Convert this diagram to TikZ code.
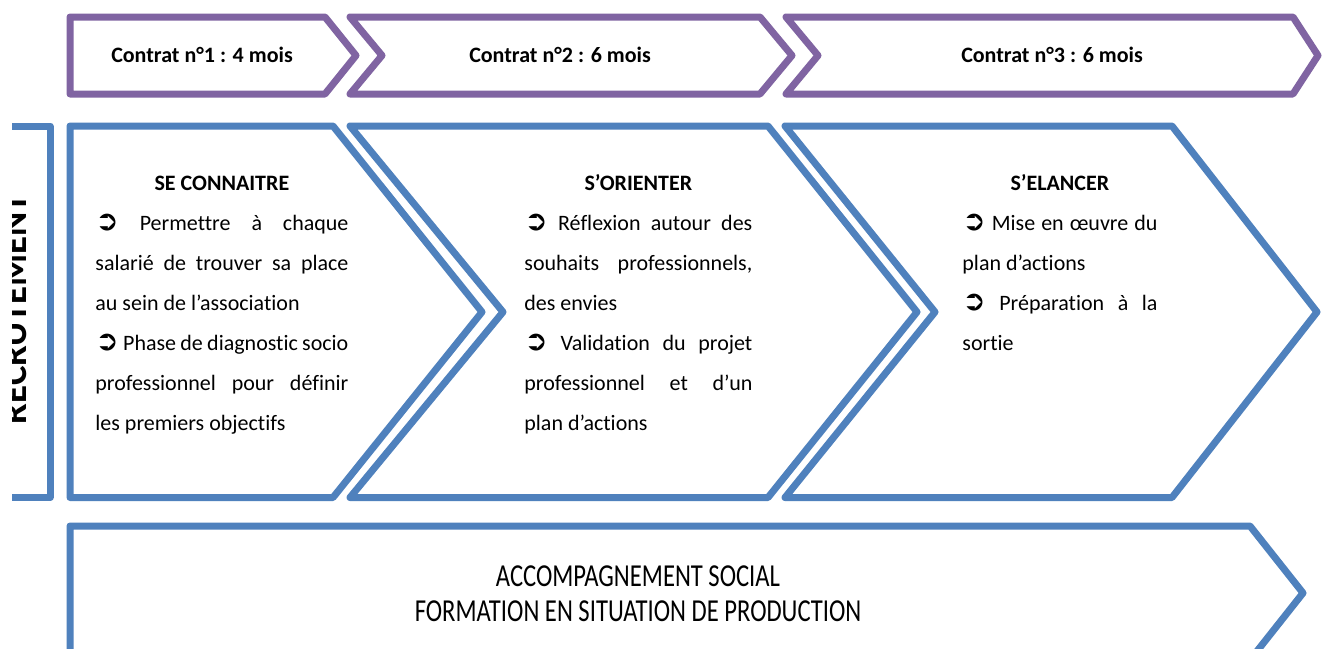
\documentclass[tikz,border=0pt]{standalone}
\usepackage{fontspec}
\setmainfont{Carlito}[Ligatures=NoCommon]
\newfontfamily\symfont{DejaVu Sans}
\newfontfamily\condfont{Carlito}[FakeStretch=0.77, Ligatures=NoCommon]
\definecolor{purp}{HTML}{8064A2}
\definecolor{blu}{HTML}{4F81BD}
\hbadness=10000
\newdimen\blkw
\newcommand\bul{{\symfont\fontsize{14}{14}\selectfont ➲}}
\newcommand\jlin[1]{\hbox to \blkw{#1}}
\newcommand\llin[1]{\hbox to \blkw{#1\hfil}}
\newcommand\clin[1]{\hbox to \blkw{\hfil#1\hfil}}
\newcommand\blk[2]{\vtop{\blkw=#1\hsize=#1\baselineskip=20pt\lineskiplimit=-50pt\lineskip=0pt #2}}
\tikzset{
  pchev/.style={draw=purp, line width=3.5pt, line join=round},
  bchev/.style={draw=blu, line width=3.5pt, line join=round},
  lbl/.style={font=\bfseries\fontsize{11}{13}\selectfont, inner sep=0pt},
  body/.style={font=\fontsize{11}{20}\selectfont, inner sep=0pt, anchor=base west}
}
\begin{document}
\begin{tikzpicture}[x=0.5pt, y=-0.5pt]
\useasboundingbox (0,0) rectangle (1327,648);
\fill[white] (0,0) rectangle (1327,648);
\begin{scope}
\clip (12,0) rectangle (1327,648);
% contract chevrons
\draw[pchev] (70,17) -- (325,17) -- (356,55.5) -- (325,94) -- (70,94) -- cycle;
\draw[pchev] (350,17) -- (760,17) -- (792,55.5) -- (760,94) -- (350,94) -- (382,55.5) -- cycle;
\draw[pchev] (786,17) -- (1293,17) -- (1318,55.5) -- (1293,94) -- (786,94) -- (818,55.5) -- cycle;
% recruitment box (cut at left)
\draw[bchev] (-10,126) -- (50,126) -- (50,497.5) -- (-10,497.5);
\node[rotate=90, anchor=base, font=\bfseries\fontsize{18.4}{18.4}\selectfont, inner sep=0pt] (rec) at (26,309) {RECRUTEMENT};
% phase chevrons
\draw[bchev] (70,126) -- (333,126) -- (482,312) -- (333,497.5) -- (70,497.5) -- cycle;
\draw[bchev] (350,126) -- (768,126) -- (917,312) -- (768,497.5) -- (350,497.5) -- (503,312) -- cycle;
\draw[bchev] (785,126) -- (1172,126) -- (1317,312) -- (1172,497.5) -- (785,497.5) -- (935,312) -- cycle;
% bottom long chevron
\draw[bchev] (70,526) -- (1250,526) -- (1303,593) -- (1250,660) -- (70,660) -- cycle;
\end{scope}
% labels
\node[lbl] (c1) at (202,55) {Contrat n°1 : 4 mois};
\node[lbl] (c2) at (560,55) {Contrat n°2 : 6 mois};
\node[lbl] (c3) at (1052,55) {Contrat n°3 : 6 mois};
\node[body] (p1) at (95,190) {\blk{126.5pt}{%
\clin{\bfseries SE CONNAITRE}
\jlin{\bul{} Permettre à chaque}
\jlin{salarié de trouver sa place}
\llin{au sein de l’association}
\jlin{\bul{} Phase de diagnostic socio}
\jlin{professionnel pour définir}
\llin{les premiers objectifs}}};
\node[body] (p2) at (524,190) {\blk{114pt}{%
\clin{\bfseries S’ORIENTER}
\jlin{\bul{} Réflexion autour des}
\jlin{souhaits professionnels,}
\llin{des envies}
\jlin{\bul{} Validation du projet}
\jlin{professionnel et d’un}
\llin{plan d’actions}}};
\node[body] (p3) at (962,190) {\blk{97.5pt}{%
\clin{\bfseries S’ELANCER}
\jlin{\bul{} Mise en œuvre du}
\llin{plan d’actions}
\jlin{\bul{} Préparation à la}
\llin{sortie}}};
\node[font=\condfont\fontsize{16}{17.5}\selectfont, align=center, inner sep=0pt] (acc) at (638,594) {ACCOMPAGNEMENT SOCIAL\\FORMATION EN SITUATION DE PRODUCTION};
\end{tikzpicture}
\end{document}
